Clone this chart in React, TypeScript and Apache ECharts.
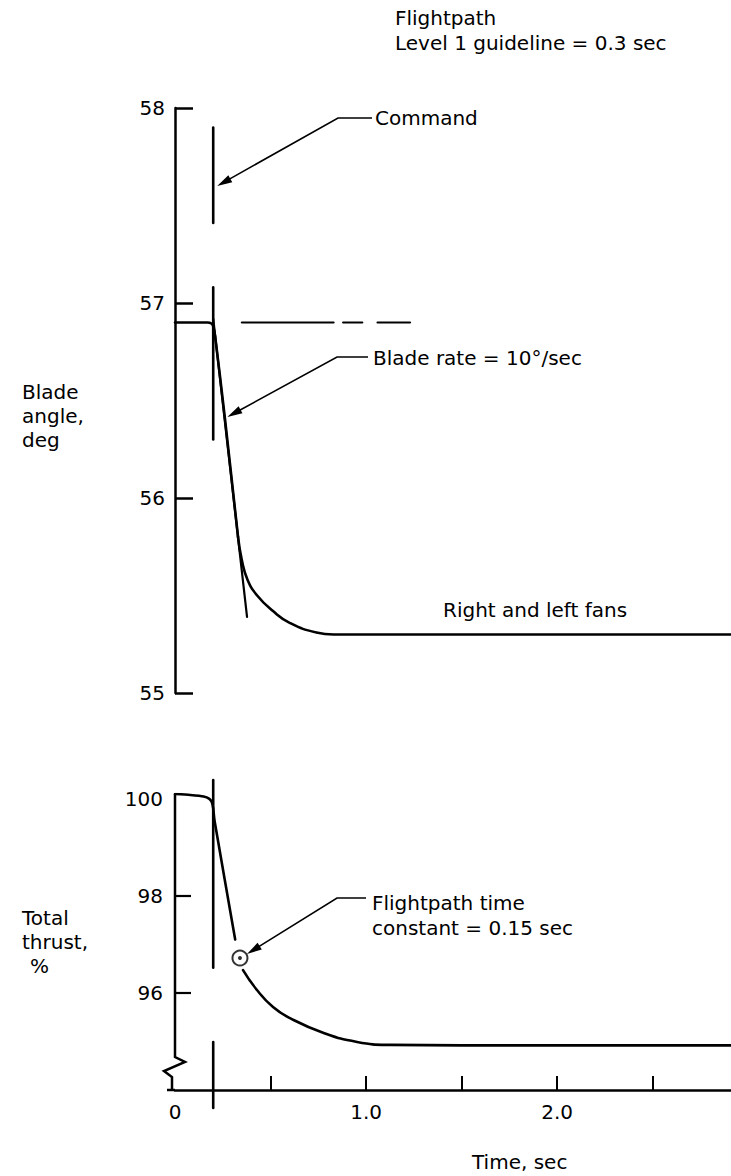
import React, { useEffect, useRef } from "react";
import * as echarts from "echarts";

// ---- data ----
const bladeTime = [0, 0.1, 0.17, 0.19, 0.2, 0.21, 0.26, 0.33];
const bladeAngle = [56.9, 56.9, 56.9, 56.895, 56.88, 56.83, 56.42, 55.8];
const bladeTailTime = [0.33, 0.35, 0.38, 0.43, 0.513, 0.6, 0.74, 0.83, 1.2, 2.0, 2.91];
const bladeTailAngle = [55.8, 55.68, 55.58, 55.5, 55.42, 55.36, 55.31, 55.3, 55.3, 55.3, 55.3];

const tangentTime = [0.2, 0.377];
const tangentAngle = [56.92, 55.39];

const refLevel = 56.9;
const refSegments = [
  [0.35, 0.83],
  [0.88, 0.98],
  [1.06, 1.23],
];

const commandTime = 0.2;
const commandTopSegments = [
  [57.9, 57.41],
  [57.08, 56.3],
];
const commandBottomSegments = [
  [100.39, 96.52],
  [94.99, 93.63],
];

const thrustTimeA = [0, 0.08, 0.15, 0.18, 0.193, 0.2, 0.207, 0.315];
const thrustA = [100.1, 100.08, 100.05, 100.0, 99.93, 99.8, 99.55, 97.1];
const thrustTimeB = [0.356, 0.429, 0.513, 0.602, 0.775, 0.953, 1.126, 1.5, 2.0, 2.91];
const thrustB = [96.47, 96.06, 95.71, 95.48, 95.18, 94.99, 94.93, 94.92, 94.92, 94.92];

const timeConstantPoint = [0.34, 96.72];

const bladeTicks = [55, 56, 57, 58];
const thrustLabels = [96, 98, 100];
const thrustTicks = [96, 98];
const timeLabels = [0, 1, 2];
const timeTicks = [0.5, 1, 1.5, 2, 2.5];

// ---- layout ----
const XMAX = 2.91;
const GL = 175;
const GW = 556;
const TT = 108;
const TH = 585;
const BT = 794;
const BH = 296;
const BMIN = 94;
const BMAX = 100.1;
const FONT = '"DejaVu Sans", sans-serif';
const FS = 20;

const px = (t: number) => GL + (t / XMAX) * GW;
const pyTop = (v: number) => TT + ((58 - v) / 3) * TH;
const pyBot = (v: number) => BT + ((BMAX - v) / (BMAX - BMIN)) * BH;

const zip = (a: number[], b: number[]) => a.map((x, i) => [x, b[i]]);

function lineSeries(grid: number, data: any[], width = 2.5, extra: any = {}) {
  return {
    type: "line",
    xAxisIndex: grid,
    yAxisIndex: grid,
    data,
    symbol: "none",
    silent: true,
    lineStyle: { color: "#000", width, cap: "round", join: "round" },
    ...extra,
  };
}

function text(str: string, x: number, y: number, align = "left") {
  return {
    type: "text",
    x,
    y,
    silent: true,
    style: { text: str, fill: "#000", font: `${FS}px ${FONT}`, align, verticalAlign: "middle" },
  };
}

function arrow(sx: number, sy: number, tx: number, ty: number, hx: number) {
  const dx = tx - sx;
  const dy = ty - sy;
  const len = Math.sqrt(dx * dx + dy * dy);
  const ux = dx / len;
  const uy = dy / len;
  const bx = tx - ux * 15;
  const by = ty - uy * 15;
  const nx = -uy * 4;
  const ny = ux * 4;
  return [
    {
      type: "polyline",
      silent: true,
      shape: { points: [[hx, sy], [sx, sy], [bx + ux * 2, by + uy * 2]] },
      style: { stroke: "#000", lineWidth: 1.6, fill: null },
    },
    {
      type: "polygon",
      silent: true,
      shape: { points: [[tx, ty], [bx + nx, by + ny], [bx - nx, by - ny]] },
      style: { fill: "#000" },
    },
  ];
}

export default function App() {
  const ref = useRef<HTMLDivElement>(null);

  useEffect(() => {
    if (!ref.current) return;
    const chart = echarts.init(ref.current, null, { renderer: "svg" });

    const series: any[] = [];
    series.push(lineSeries(0, zip(bladeTime, bladeAngle), 2.6, { smooth: 0.2 }));
    series.push(lineSeries(0, zip(bladeTailTime, bladeTailAngle), 2.6, { smooth: 0.5 }));
    series.push(lineSeries(0, zip(tangentTime, tangentAngle), 2.2));
    refSegments.forEach((s) => series.push(lineSeries(0, [[s[0], refLevel], [s[1], refLevel]], 2.2)));
    commandTopSegments.forEach((s) =>
      series.push(lineSeries(0, [[commandTime, s[0]], [commandTime, s[1]]], 2.6))
    );
    series.push(lineSeries(1, zip(thrustTimeA, thrustA), 2.6, { smooth: 0.2 }));
    series.push(lineSeries(1, zip(thrustTimeB, thrustB), 2.6, { smooth: 0.5 }));
    commandBottomSegments.forEach((s) =>
      series.push(lineSeries(1, [[commandTime, s[0]], [commandTime, s[1]]], 2.6, { clip: false }))
    );
    series.push({
      type: "scatter",
      xAxisIndex: 1,
      yAxisIndex: 1,
      data: [timeConstantPoint],
      symbol: "circle",
      symbolSize: 15,
      silent: true,
      z: 5,
      itemStyle: { color: "#fff", borderColor: "#000", borderWidth: 2 },
    });
    series.push({
      type: "scatter",
      xAxisIndex: 1,
      yAxisIndex: 1,
      data: [timeConstantPoint],
      symbol: "circle",
      symbolSize: 4,
      silent: true,
      z: 6,
      itemStyle: { color: "#000" },
    });

    // annotation geometry
    const cmdTipX = px(commandTime) + 4;
    const cmdTipY = pyTop(57.6);
    const rateTipY = 417;
    const rateV = 58 - ((rateTipY - TT) / TH) * 3;
    const rateT =
      tangentTime[0] +
      ((tangentAngle[0] - rateV) / (tangentAngle[0] - tangentAngle[1])) * (tangentTime[1] - tangentTime[0]);
    const rateTipX = px(rateT) + 3;
    const fpTipX = px(timeConstantPoint[0]) + 7;
    const fpTipY = pyBot(timeConstantPoint[1]) - 4;

    const axisX = GL;
    const graphic: any[] = [
      text("Flightpath", 395, 18),
      text("Level 1 guideline = 0.3 sec", 395, 43),
      text("Command", 375, 118),
      text("Blade rate = 10°/sec", 373, 358),
      text("Blade", 22, 392),
      text("angle,", 22, 416),
      text("deg", 22, 440),
      text("Right and left fans", 443, 610),
      text("Total", 22, 918),
      text("thrust,", 22, 942),
      text("%", 30, 966),
      text("Flightpath time", 372, 903),
      text("constant = 0.15 sec", 372, 928),
      text("Time, sec", 472, 1162),
      ...arrow(338, 118, cmdTipX, cmdTipY, 372),
      ...arrow(337, 357, rateTipX, rateTipY, 368),
      ...arrow(337, 898, fpTipX, fpTipY, 366),
      {
        type: "polyline",
        silent: true,
        shape: {
          points: [
            [axisX, BT],
            [axisX, 1057],
            [axisX + 10, 1062],
            [axisX - 11, 1071],
            [axisX - 3, 1077],
            [axisX - 3, BT + BH],
          ],
        },
        style: { stroke: "#000", lineWidth: 2.5, fill: null },
      },
      {
        type: "line",
        silent: true,
        shape: { x1: axisX - 8, y1: BT + BH, x2: axisX, y2: BT + BH },
        style: { stroke: "#000", lineWidth: 2.5 },
      },
    ];

    const axisLabelStyle = { color: "#000", fontSize: FS, fontFamily: FONT };

    chart.setOption({
      animation: false,
      backgroundColor: "#fff",
      grid: [
        { left: GL, top: TT, width: GW, height: TH },
        { left: GL, top: BT, width: GW, height: BH },
      ],
      xAxis: [
        { type: "value", gridIndex: 0, min: 0, max: XMAX, show: false },
        {
          type: "value",
          gridIndex: 1,
          min: 0,
          max: XMAX,
          axisLine: { show: true, onZero: false, lineStyle: { color: "#000", width: 2.5 } },
          axisTick: { show: true, inside: true, length: 14, customValues: timeTicks, lineStyle: { color: "#000", width: 2 } },
          axisLabel: {
            show: true,
            customValues: timeLabels,
            margin: 12,
            formatter: (v: number) => (v === 0 ? "0" : v.toFixed(1)),
            ...axisLabelStyle,
          },
          splitLine: { show: false },
        },
      ],
      yAxis: [
        {
          type: "value",
          gridIndex: 0,
          min: 55,
          max: 58,
          interval: 1,
          axisLine: { show: true, lineStyle: { color: "#000", width: 2.5 } },
          axisTick: { show: true, inside: true, length: 18, customValues: bladeTicks, lineStyle: { color: "#000", width: 2.5 } },
          axisLabel: { show: true, margin: 10, customValues: bladeTicks, ...axisLabelStyle },
          splitLine: { show: false },
        },
        {
          type: "value",
          gridIndex: 1,
          min: BMIN,
          max: BMAX,
          axisLine: { show: false },
          axisTick: { show: true, inside: true, length: 16, customValues: thrustTicks, lineStyle: { color: "#000", width: 2.2 } },
          axisLabel: { show: true, margin: 12, customValues: thrustLabels, ...axisLabelStyle },
          splitLine: { show: false },
        },
      ],
      series,
      graphic,
    });

    return () => chart.dispose();
  }, []);

  return (
    <div
      ref={ref}
      style={{ position: "absolute", left: 0, top: 0, width: 731, height: 1176, background: "#fff" }}
    />
  );
}
